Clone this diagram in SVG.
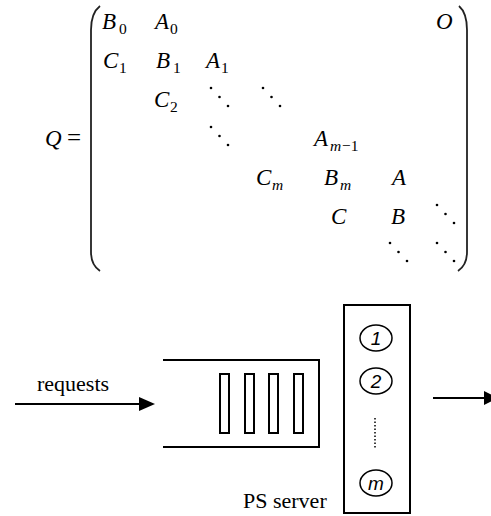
<svg xmlns="http://www.w3.org/2000/svg" width="491" height="516" viewBox="0 0 491 516">
<style>
text{font-family:'Liberation Serif','Times New Roman',Times,serif;fill:#000}
.m{font-style:italic;font-size:23px}
.s{font-size:15.5px}
.si{font-style:italic;font-size:15.5px}
.t{font-size:22px}
.n{font-family:'Liberation Sans',Arial,sans-serif;font-style:italic;font-size:19px;text-anchor:middle}
.p{fill:none;stroke:#222;stroke-width:1.8}
.ln{fill:none;stroke:#000;stroke-width:2}
.d{fill:#000}
</style>
<defs>
<g id="dd"><circle cx="0" cy="0" r="1.3"/><circle cx="8.5" cy="9" r="1.3"/><circle cx="17" cy="18" r="1.3"/></g>
</defs>
<g id="matrix">
<text class="m" x="45" y="146">Q</text>
<text class="t" x="67" y="146" style="font-size:25px">=</text>
<path class="p" d="M100 6 Q91 13 91 30 L91 252 Q91 265 100 271"/>
<path class="p" d="M459 6 Q467 13 467 30 L467 252 Q467 265 458 271"/>
<text class="m" x="102" y="29">B</text><text class="s" x="119" y="34">0</text>
<text class="m" x="155" y="29">A</text><text class="s" x="170" y="34">0</text>
<text class="m" x="436" y="29">O</text>
<text class="m" x="103" y="68">C</text><text class="s" x="119" y="73">1</text>
<text class="m" x="156" y="68">B</text><text class="s" x="173" y="73">1</text>
<text class="m" x="206" y="68">A</text><text class="s" x="221" y="73">1</text>
<text class="m" x="154" y="107">C</text><text class="s" x="170" y="112">2</text>
<g class="d">
<use href="#dd" x="211" y="88"/>
<use href="#dd" x="263" y="88"/>
<use href="#dd" x="211" y="127"/>
<use href="#dd" x="437" y="205"/>
<use href="#dd" x="390" y="243"/>
<use href="#dd" x="437" y="243"/>
</g>
<text class="m" x="314" y="146">A</text><text class="si" x="330" y="151">m</text><text class="s" x="342" y="151">−1</text>
<text class="m" x="256" y="185">C</text><text class="si" x="272" y="190">m</text>
<text class="m" x="324" y="185">B</text><text class="si" x="340" y="190">m</text>
<text class="m" x="392" y="185">A</text>
<text class="m" x="331" y="224">C</text>
<text class="m" x="391" y="224">B</text>
</g>
<g id="queue">
<path class="ln" d="M163 360 H319 V447 H163"/>
<g fill="#fff" stroke="#000" stroke-width="2">
<rect x="220" y="374" width="9" height="59"/>
<rect x="245" y="374" width="9" height="59"/>
<rect x="269" y="374" width="9" height="59"/>
<rect x="294" y="374" width="9" height="59"/>
</g>
</g>
<g id="server">
<rect x="344" y="305" width="66" height="208" fill="#fff" stroke="#000" stroke-width="2"/>
<g fill="none" stroke="#000" stroke-width="1.5">
<ellipse cx="376" cy="338" rx="16" ry="13"/>
<ellipse cx="376" cy="381" rx="16" ry="13"/>
<ellipse cx="376" cy="483" rx="16" ry="13"/>
</g>
<text class="n" x="376" y="345">1</text>
<text class="n" x="376" y="388">2</text>
<text class="n" x="376" y="490">m</text>
<line x1="375" y1="418" x2="375" y2="448" stroke="#000" stroke-width="1.5" stroke-dasharray="1.5 2"/>
</g>
<text id="label-requests" class="t" x="37" y="391">requests</text>
<text id="label-ps" class="t" x="243" y="508">PS server</text>
<g id="connectors">
<line class="ln" x1="15" y1="404" x2="141" y2="404"/>
<polygon points="139,397 155,404 139,411" fill="#000"/>
<line class="ln" x1="433" y1="398" x2="486" y2="398"/>
<polygon points="484,391 498,398 484,405" fill="#000"/>
</g>
</svg>
